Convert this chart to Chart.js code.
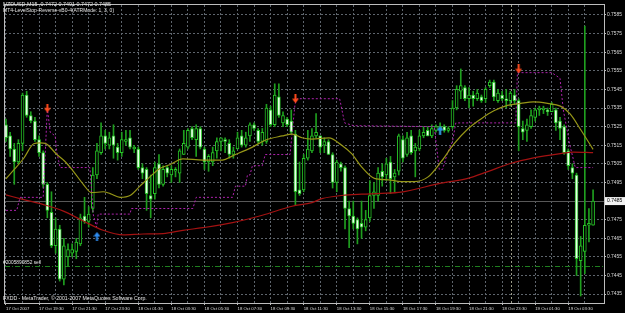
<!DOCTYPE html>
<html>
<head>
<meta charset="utf-8">
<script src="https://cdn.jsdelivr.net/npm/chart.js@4.4.0/dist/chart.umd.min.js"></script>
<style>
    html, body { margin: 0; padding: 0; background: #000; }
    #wrap { width: 625px; height: 313px; }
</style>
</head>
<body>
<div id="wrap"><canvas id="chart" width="625" height="313"></canvas></div>
<script>
// NZDUSD M15, 17 Oct 2007 17:30 -> 19 Oct 2007 05:00 (143 bars)
const timeLabels = ['17 Oct 2007', '17 Oct 19:30', '17 Oct 21:30', '17 Oct 23:30', '18 Oct 01:30', '18 Oct 03:30',
    '18 Oct 05:30', '18 Oct 07:30', '18 Oct 09:30', '18 Oct 11:30', '18 Oct 13:30', '18 Oct 15:30',
    '18 Oct 17:30', '18 Oct 19:30', '18 Oct 21:30', '18 Oct 23:30', '19 Oct 01:30', '19 Oct 03:30'];
const priceTicks = [0.7435, 0.7445, 0.7455, 0.7465, 0.7475, 0.7485, 0.7495, 0.7505, 0.7515,
    0.7525, 0.7535, 0.7545, 0.7555, 0.7565, 0.7575, 0.7585];

const open = [0.7526, 0.7520, 0.7513, 0.7506, 0.7516, 0.7542, 0.7531, 0.7528, 0.7518, 0.7511,
    0.7494, 0.7479, 0.7461, 0.7470, 0.7443, 0.7455, 0.7457, 0.7458, 0.7462, 0.7477,
    0.7474, 0.7481, 0.7499, 0.7511, 0.7520, 0.7515, 0.7520, 0.7514, 0.7511, 0.7517,
    0.7519, 0.7513, 0.7513, 0.7503, 0.7502, 0.7488, 0.7489, 0.7505, 0.7494, 0.7503,
    0.7499, 0.7501, 0.7500, 0.7510, 0.7514, 0.7524, 0.7518, 0.7524, 0.7513, 0.7506,
    0.7506, 0.7512, 0.7517, 0.7518, 0.7516, 0.7510, 0.7513, 0.7520, 0.7515, 0.7520,
    0.7526, 0.7523, 0.7517, 0.7517, 0.7534, 0.7526, 0.7541, 0.7527, 0.7529, 0.7528,
    0.7521, 0.7491, 0.7491, 0.7508, 0.7512, 0.7520, 0.7520, 0.7515, 0.7517, 0.7510,
    0.7495, 0.7505, 0.7503, 0.7481, 0.7477, 0.7475, 0.7473, 0.7471, 0.7476, 0.7488,
    0.7488, 0.7501, 0.7499, 0.7506, 0.7498, 0.7501, 0.7518, 0.7510, 0.7520, 0.7512,
    0.7513, 0.7520, 0.7523, 0.7520, 0.7523, 0.7523, 0.7525, 0.7523, 0.7525, 0.7535,
    0.7544, 0.7546, 0.7540, 0.7542, 0.7540, 0.7541, 0.7540, 0.7547, 0.7549, 0.7539,
    0.7542, 0.7540, 0.7539, 0.7542, 0.7539, 0.7524, 0.7523, 0.7525, 0.7530, 0.7534,
    0.7534, 0.7534, 0.7533, 0.7534, 0.7528, 0.7525, 0.7512, 0.7503, 0.7499, 0.7453,
    0.7458, 0.7472, 0.7472];
const high = [0.7529, 0.7522, 0.7516, 0.7518, 0.7543, 0.7544, 0.7533, 0.7530, 0.7520, 0.7512,
    0.7495, 0.7490, 0.7476, 0.7472, 0.7465, 0.7462, 0.7462, 0.7465, 0.7478, 0.7487,
    0.7482, 0.7503, 0.7516, 0.7527, 0.7523, 0.7522, 0.7526, 0.7516, 0.7522, 0.7523,
    0.7523, 0.7515, 0.7514, 0.7505, 0.7503, 0.7499, 0.7506, 0.7510, 0.7504, 0.7504,
    0.7504, 0.7503, 0.7513, 0.7523, 0.7524, 0.7525, 0.7526, 0.7525, 0.7514, 0.7510,
    0.7514, 0.7519, 0.7519, 0.7519, 0.7518, 0.7514, 0.7522, 0.7523, 0.7522, 0.7527,
    0.7527, 0.7524, 0.7524, 0.7537, 0.7536, 0.7548, 0.7548, 0.7533, 0.7530, 0.7534,
    0.7523, 0.7506, 0.7510, 0.7523, 0.7524, 0.7532, 0.7520, 0.7519, 0.7518, 0.7511,
    0.7507, 0.7506, 0.7504, 0.7485, 0.7485, 0.7476, 0.7485, 0.7480, 0.7496, 0.7495,
    0.7503, 0.7505, 0.7508, 0.7509, 0.7502, 0.7521, 0.7520, 0.7522, 0.7523, 0.7516,
    0.7523, 0.7525, 0.7525, 0.7526, 0.7526, 0.7527, 0.7526, 0.7525, 0.7539, 0.7547,
    0.7556, 0.7547, 0.7546, 0.7544, 0.7545, 0.7542, 0.7546, 0.7550, 0.7550, 0.7545,
    0.7544, 0.7545, 0.7544, 0.7545, 0.7540, 0.7528, 0.7529, 0.7534, 0.7535, 0.7536,
    0.7536, 0.7535, 0.7538, 0.7535, 0.7530, 0.7526, 0.7513, 0.7505, 0.7500, 0.7466,
    0.7579, 0.7481, 0.7491];
const low = [0.7517, 0.7509, 0.7494, 0.7505, 0.7512, 0.7530, 0.7527, 0.7517, 0.7509, 0.7492,
    0.7476, 0.7460, 0.7457, 0.7442, 0.7440, 0.7450, 0.7455, 0.7454, 0.7461, 0.7473,
    0.7471, 0.7479, 0.7497, 0.7510, 0.7513, 0.7513, 0.7508, 0.7507, 0.7509, 0.7515,
    0.7513, 0.7511, 0.7502, 0.7497, 0.7480, 0.7476, 0.7486, 0.7492, 0.7493, 0.7498,
    0.7495, 0.7498, 0.7495, 0.7510, 0.7513, 0.7518, 0.7509, 0.7513, 0.7502, 0.7501,
    0.7504, 0.7508, 0.7512, 0.7511, 0.7508, 0.7508, 0.7513, 0.7514, 0.7514, 0.7517,
    0.7523, 0.7516, 0.7515, 0.7516, 0.7525, 0.7525, 0.7530, 0.7525, 0.7525, 0.7521,
    0.7483, 0.7488, 0.7490, 0.7507, 0.7511, 0.7519, 0.7511, 0.7511, 0.7510, 0.7492,
    0.7490, 0.7501, 0.7470, 0.7460, 0.7470, 0.7462, 0.7465, 0.7469, 0.7474, 0.7481,
    0.7485, 0.7493, 0.7496, 0.7489, 0.7490, 0.7499, 0.7506, 0.7509, 0.7510, 0.7498,
    0.7512, 0.7519, 0.7520, 0.7519, 0.7522, 0.7521, 0.7522, 0.7522, 0.7524, 0.7534,
    0.7540, 0.7539, 0.7535, 0.7536, 0.7539, 0.7538, 0.7538, 0.7546, 0.7539, 0.7538,
    0.7539, 0.7535, 0.7536, 0.7537, 0.7512, 0.7518, 0.7517, 0.7524, 0.7528, 0.7531,
    0.7532, 0.7531, 0.7533, 0.7523, 0.7518, 0.7510, 0.7502, 0.7497, 0.7445, 0.7434,
    0.7446, 0.7463, 0.7472];
const close = [0.7519, 0.7513, 0.7506, 0.7516, 0.7542, 0.7531, 0.7528, 0.7518, 0.7511, 0.7494,
    0.7480, 0.7461, 0.7470, 0.7443, 0.7461, 0.7459, 0.7459, 0.7463, 0.7476, 0.7474,
    0.7478, 0.7499, 0.7512, 0.7520, 0.7516, 0.7519, 0.7515, 0.7511, 0.7518, 0.7518,
    0.7514, 0.7514, 0.7503, 0.7500, 0.7489, 0.7486, 0.7503, 0.7494, 0.7502, 0.7500,
    0.7502, 0.7502, 0.7512, 0.7516, 0.7523, 0.7519, 0.7524, 0.7514, 0.7506, 0.7509,
    0.7511, 0.7517, 0.7519, 0.7517, 0.7510, 0.7512, 0.7519, 0.7515, 0.7519, 0.7526,
    0.7524, 0.7517, 0.7522, 0.7535, 0.7526, 0.7542, 0.7531, 0.7531, 0.7526, 0.7522,
    0.7490, 0.7489, 0.7508, 0.7513, 0.7520, 0.7522, 0.7514, 0.7517, 0.7510, 0.7495,
    0.7506, 0.7503, 0.7481, 0.7477, 0.7473, 0.7470, 0.7471, 0.7475, 0.7488, 0.7490,
    0.7500, 0.7498, 0.7505, 0.7497, 0.7500, 0.7520, 0.7508, 0.7519, 0.7511, 0.7514,
    0.7520, 0.7522, 0.7520, 0.7524, 0.7525, 0.7525, 0.7523, 0.7524, 0.7535, 0.7545,
    0.7547, 0.7540, 0.7542, 0.7540, 0.7543, 0.7539, 0.7545, 0.7549, 0.7541, 0.7543,
    0.7540, 0.7539, 0.7543, 0.7539, 0.7525, 0.7522, 0.7526, 0.7531, 0.7534, 0.7535,
    0.7535, 0.7533, 0.7537, 0.7527, 0.7524, 0.7511, 0.7504, 0.7500, 0.7454, 0.7461,
    0.7472, 0.7473, 0.7485];

// moving averages at these bar positions
const fastMaBars = [0, 2, 4.3, 6.7, 8.2, 9.5, 12.3, 14.4, 16.3, 18.7, 20.7, 23.5, 25.2, 27.6, 30, 32.4,
    34.8, 37.2, 39.6, 42.8, 47.6, 52.4, 54.8, 59.6, 62.7, 66.8, 69.2, 71.6, 74, 78.1, 81.2, 83.6, 86,
    89.1, 92.5, 95.6, 98.8, 102.1, 105.2, 108.4, 111.7, 114.8, 118, 121.3, 124.5, 127.6, 131, 134.1,
    136.5, 138.9, 142];
const fastMaVals = [0.74970, 0.75020, 0.75080, 0.75158, 0.75163, 0.75160, 0.75100, 0.75060, 0.75010,
    0.74940, 0.74895, 0.74900, 0.74890, 0.74870, 0.74880, 0.74930, 0.74980, 0.75025, 0.75045, 0.75077,
    0.75070, 0.75070, 0.75093, 0.75140, 0.75177, 0.75200, 0.75210, 0.75190, 0.75183, 0.75190, 0.75150,
    0.75105, 0.75034, 0.74972, 0.74964, 0.74955, 0.74955, 0.74980, 0.75060, 0.75158, 0.75237, 0.75290,
    0.75335, 0.75364, 0.75375, 0.75383, 0.75375, 0.75360, 0.75317, 0.75237, 0.75128];
const slowMaBars = [0, 4.3, 9.1, 13.9, 18.7, 23.5, 28.4, 33.2, 38, 42.8, 47.6, 54.8, 62, 69.2, 74, 76.4,
    81.2, 86, 90.8, 95.6, 105.2, 111.7, 116.5, 122, 127.6, 134.1, 137.2, 142];
const slowMaVals = [0.74883, 0.74858, 0.74831, 0.74796, 0.74743, 0.74693, 0.74668, 0.74673, 0.74675,
    0.74693, 0.74707, 0.74734, 0.74774, 0.74822, 0.74842, 0.74863, 0.74880, 0.74887, 0.74891, 0.74898,
    0.74946, 0.74972, 0.75008, 0.75052, 0.75082, 0.75105, 0.75113, 0.75110];

// LevelStop-Reverse trailing line
const stopBars = [0, 2.6, 3.4, 9, 10, 10.7, 11.9, 12.3, 13.1, 20.3, 21.1, 21.9, 22.3, 30, 30.3, 45.2, 46,
    54.8, 55.5, 57.9, 58.4, 59, 59.6, 62, 62.7, 68.7, 69.9, 70.4, 80.7, 81.9, 84.1, 103.6, 104, 104.8,
    105.6, 106.8, 108, 108.8, 123.3, 123.7, 132, 134, 134.8, 136.4, 137.7, 142];
const stopVals = [0.7480, 0.7480, 0.7487, 0.7487, 0.7535, 0.7522, 0.7520, 0.7511, 0.7503, 0.7503,
    0.7478, 0.7471, 0.7478, 0.7478, 0.7481, 0.7481, 0.7487, 0.7487, 0.7493, 0.7493, 0.7499, 0.7499,
    0.7504, 0.7504, 0.7510, 0.7510, 0.7537, 0.7540, 0.7540, 0.7527, 0.75255, 0.7525, 0.7517, 0.7502,
    0.7502, 0.7511, 0.7517, 0.7527, 0.7527, 0.7554, 0.7554, 0.7551, 0.7534, 0.7515, 0.7503, 0.7503];

const sellBars = [10, 70, 124];
const sellVals = [0.7535, 0.7540, 0.7556];
const buyBars = [22, 105];
const buyVals = [0.7466, 0.7523];

const bidPrice = 0.7485;
const orderPrice = 0.7450;
const separatorBar = 122.2;

// plot geometry: bar 0 at x=2, bar 142 at x=593, area 1..604 / 1..303
const pxPerBar = 591 / 142;
const xMin = -1 / pxPerBar;
const xMax = xMin + 603 / pxPerBar;
const yMin = 0.743023, yMax = 0.759035;

const gridBars = [];
for (let b = 0; b <= 140; b += 4) gridBars.push(b);

function arrowImg(color, up) {
    const c = document.createElement('canvas');
    c.width = 7; c.height = 9;
    const g = c.getContext('2d');
    g.fillStyle = color;
    g.beginPath();
    if (up) {
        g.moveTo(3.5, 0); g.lineTo(7, 4.5); g.lineTo(0, 4.5);
        g.fill();
        g.fillRect(2.5, 4, 2, 5);
    } else {
        g.fillRect(2.5, 0, 2, 5);
        g.moveTo(0, 4.5); g.lineTo(7, 4.5); g.lineTo(3.5, 9);
        g.fill();
    }
    return c;
}

const pairs = (xs, ys) => xs.map((v, i) => ({x: v, y: ys[i]}));
const font = 'Liberation Sans';

const overlay = {
    id: 'overlay',
    beforeDatasetsDraw(chart) {
        const {ctx, chartArea: a, scales: {x, y}} = chart;
        ctx.save();
        ctx.lineWidth = 1;
        // day separator
        const sx = Math.round(x.getPixelForValue(separatorBar)) + 0.5;
        ctx.strokeStyle = '#9a9a86';
        ctx.setLineDash([2, 2]);
        ctx.beginPath(); ctx.moveTo(sx, a.top); ctx.lineTo(sx, a.bottom); ctx.stroke();
        // bid line
        const by = Math.round(y.getPixelForValue(bidPrice)) + 0.5;
        ctx.setLineDash([]);
        ctx.strokeStyle = '#585858';
        ctx.beginPath(); ctx.moveTo(a.left, by); ctx.lineTo(a.right, by); ctx.stroke();
        // order line
        const oy = Math.round(y.getPixelForValue(orderPrice)) + 0.5;
        ctx.setLineDash([5, 2, 1, 2]);
        ctx.strokeStyle = '#1f7f1f';
        ctx.beginPath(); ctx.moveTo(a.left, oy); ctx.lineTo(a.right, oy); ctx.stroke();
        ctx.restore();
    },
    afterDraw(chart) {
        const {ctx, chartArea: a, scales: {y}} = chart;
        ctx.save();
        ctx.strokeStyle = '#bdbdbd';
        ctx.lineWidth = 1;
        ctx.strokeRect(a.left - 0.5, a.top - 0.5, a.right - a.left + 1, a.bottom - a.top + 1);

        ctx.fillStyle = '#e4e4e4';
        ctx.textBaseline = 'middle';
        ctx.textAlign = 'left';
        ctx.font = '5.4px "' + font + '"';
        ctx.fillText('NZDUSD,M15  0.7472 0.7491 0.7472 0.7485', 3, 5);
        ctx.font = '5px "' + font + '"';
        ctx.fillText('MT4-LevelStop-Reverse-vB0-4(ATRMode: 1, 3, 0)', 3, 11);
        ctx.font = '5.2px "' + font + '"';
        ctx.fillText('FXDD - MetaTrader, \u00a9 2001-2007 MetaQuotes Software Corp.', 3, 298.5);
        ctx.font = '4.8px "' + font + '"';
        ctx.fillText('#2005890852 sell', 3, y.getPixelForValue(orderPrice) - 3.5);

        // current price box
        const by = y.getPixelForValue(bidPrice);
        ctx.fillStyle = '#f2f2f2';
        ctx.fillRect(605, by - 4, 20, 8);
        ctx.fillStyle = '#000';
        ctx.font = '5px "' + font + '"';
        ctx.fillText(bidPrice.toFixed(4), 607, by);
        ctx.restore();
    }
};

new Chart(document.getElementById('chart').getContext('2d'), {
    data: {
        datasets: [
            {
                type: 'bar',
                data: open.map((o, i) => ({x: i, y: [low[i], high[i]]})),
                backgroundColor: '#1f9f1f',
                barThickness: 1,
                grouped: false,
                order: 10
            },
            {
                type: 'bar',
                data: open.map((o, i) => ({x: i, y: [Math.min(o, close[i]), Math.max(o, close[i])]})),
                backgroundColor: open.map((o, i) => close[i] < o ? '#eaffea' : '#000000'),
                borderColor: '#27c427',
                borderWidth: 1,
                borderSkipped: false,
                barThickness: 3,
                minBarLength: 1,
                grouped: false,
                order: 9
            },
            {
                type: 'line',
                data: pairs(stopBars, stopVals),
                borderColor: '#ad22ad',
                borderWidth: 1,
                borderDash: [2, 2],
                pointRadius: 0,
                tension: 0,
                order: 5
            },
            {
                type: 'line',
                data: pairs(slowMaBars, slowMaVals),
                borderColor: '#a31212',
                borderWidth: 1.2,
                pointRadius: 0,
                cubicInterpolationMode: 'monotone',
                order: 4
            },
            {
                type: 'line',
                data: pairs(fastMaBars, fastMaVals),
                borderColor: '#979718',
                borderWidth: 1.2,
                pointRadius: 0,
                cubicInterpolationMode: 'monotone',
                order: 3
            },
            {
                type: 'scatter',
                data: pairs(sellBars, sellVals),
                pointStyle: arrowImg('#ff4b1c', false),
                order: 1
            },
            {
                type: 'scatter',
                data: pairs(buyBars, buyVals),
                pointStyle: arrowImg('#2e8cf0', true),
                order: 1
            }
        ]
    },
    options: {
        responsive: false,
        animation: false,
        events: [],
        devicePixelRatio: 1,
        layout: {padding: {left: 1, top: 1, right: 0, bottom: 0}},
        plugins: {legend: {display: false}, tooltip: {enabled: false}},
        scales: {
            x: {
                type: 'linear',
                offset: false,
                min: xMin,
                max: xMax,
                afterBuildTicks: s => { s.ticks = gridBars.map(v => ({value: v})); },
                afterFit: s => { s.height = 10; s.paddingLeft = 0; s.paddingRight = 0; },
                grid: {
                    offset: false,
                    color: '#5e656d',
                    tickLength: 2,
                    tickColor: c => (c.tick && c.tick.value % 8 === 0) ? '#bdbdbd' : 'rgba(0,0,0,0)'
                },
                border: {display: false, dash: [2, 2]},
                ticks: {
                    autoSkip: false,
                    maxRotation: 0,
                    align: 'start',
                    padding: 1,
                    color: '#dcdcdc',
                    font: {size: 4.3, family: font},
                    callback: v => v % 8 === 0 ? timeLabels[v / 8] : ''
                }
            },
            y: {
                position: 'right',
                min: yMin,
                max: yMax,
                afterBuildTicks: s => { s.ticks = priceTicks.map(v => ({value: v})); },
                afterFit: s => { s.width = 21; s.paddingTop = 0; s.paddingBottom = 0; },
                grid: {color: '#5e656d', tickLength: 2, tickColor: '#bdbdbd'},
                border: {display: false, dash: [2, 2]},
                ticks: {
                    padding: 1,
                    color: '#dcdcdc',
                    font: {size: 4.9, family: font},
                    callback: v => v.toFixed(4)
                }
            }
        }
    },
    plugins: [overlay]
});
</script>
</body>
</html>
